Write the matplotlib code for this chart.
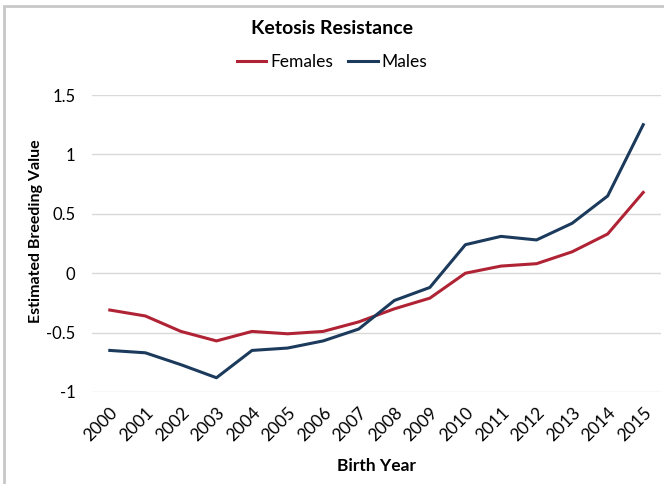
import numpy as np
import matplotlib.pyplot as plt
from matplotlib.patches import Rectangle

plt.rcParams['font.family'] = ['Lato', 'DejaVu Sans']

years = [str(y) for y in range(2000, 2016)]
females = [-0.31, -0.36, -0.49, -0.57, -0.49, -0.51, -0.49, -0.41,
           -0.30, -0.21, 0.00, 0.06, 0.08, 0.18, 0.33, 0.68]
males = [-0.65, -0.67, -0.77, -0.88, -0.65, -0.63, -0.57, -0.47,
         -0.23, -0.12, 0.24, 0.31, 0.28, 0.42, 0.65, 1.25]
yticks = [-1, -0.5, 0, 0.5, 1, 1.5]
ytick_labels = ["-1", "-0.5", "0", "0.5", "1", "1.5"]

fig = plt.figure(figsize=(6.64, 4.84), dpi=100)
fig.patches.append(Rectangle((4/664, -0.1), 1.2, 1 - 6/484 + 0.1,
                             transform=fig.transFigure, fill=False,
                             edgecolor='#c8c8c8', linewidth=2))

ax = fig.add_axes([92/664, (484-392)/484, 569/664, 297/484])
x = np.arange(len(years))
ax.plot(x, females, color='#B02335', linewidth=2.2, label='Females')
ax.plot(x, males, color='#1B3A5C', linewidth=2.2, label='Males')

ax.set_xlim(-0.5, len(years) - 0.5)
ax.set_ylim(-1, 1.5)
ax.set_yticks(yticks)
ax.set_yticklabels(ytick_labels, fontsize=12)
ax.set_xticks(x)
ax.set_xticklabels(years, rotation=45, ha='right', rotation_mode='anchor', fontsize=12.5)
ax.tick_params(axis='y', length=0, pad=12)
ax.tick_params(axis='x', length=0, pad=9)
ax.grid(axis='y', color='#d9d9d9', linewidth=1)
ax.set_axisbelow(True)
for s in ax.spines.values():
    s.set_visible(False)

ax.set_xlabel("Birth Year", fontsize=12.5, fontweight='bold', labelpad=10)
ax.set_ylabel("Estimated Breeding Value", fontsize=11.5, fontweight='bold')
ax.yaxis.set_label_coords((43 - 92) / 569, (392 - 231) / 297)

fig.text(0.5, 1 - 28/484, "Ketosis Resistance", ha='center', va='center',
         fontsize=14, fontweight='bold')
fig.legend(loc='center', bbox_to_anchor=(0.5, 1 - 62/484), ncol=2, frameon=False,
           fontsize=12.5, handlelength=1.7, handletextpad=0.2, columnspacing=0.9)

fig.savefig("out.png", dpi=100)
